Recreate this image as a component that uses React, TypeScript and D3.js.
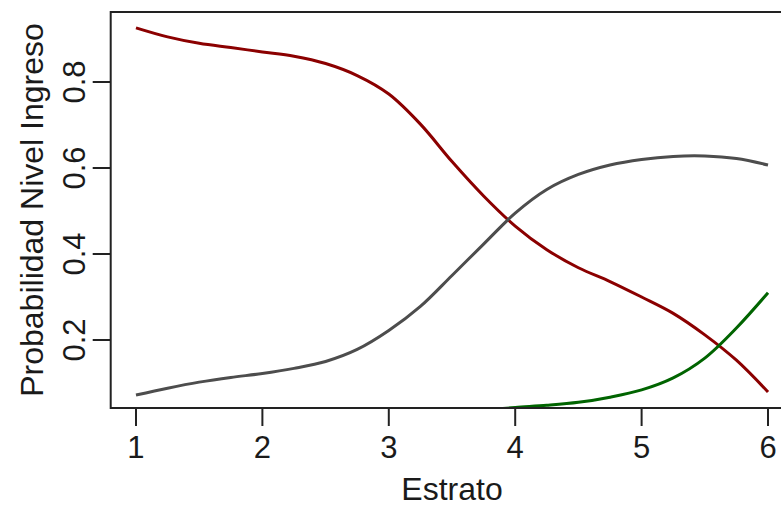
import React from "react";
import * as d3 from "d3";

const estratoRed = [1, 1.25, 1.5, 1.75, 2, 2.25, 2.5, 2.75, 3, 3.25, 3.5, 3.75, 4, 4.25, 4.5, 4.75, 5, 5.25, 5.5, 5.75, 6];
const probRed = [0.926, 0.905, 0.890, 0.880, 0.870, 0.860, 0.843, 0.815, 0.772, 0.702, 0.615, 0.535, 0.465, 0.410, 0.368, 0.336, 0.300, 0.262, 0.212, 0.153, 0.079];

const estratoGrey = [1, 1.25, 1.5, 1.75, 2, 2.25, 2.5, 2.75, 3, 3.25, 3.5, 3.75, 4, 4.25, 4.5, 4.75, 5, 5.25, 5.5, 5.75, 6];
const probGrey = [0.072, 0.088, 0.102, 0.113, 0.122, 0.134, 0.150, 0.178, 0.222, 0.278, 0.350, 0.423, 0.495, 0.550, 0.585, 0.607, 0.620, 0.627, 0.628, 0.622, 0.607];

const estratoGreen = [3.7, 4, 4.25, 4.5, 4.75, 5, 5.25, 5.5, 5.75, 6];
const probGreen = [0.036, 0.043, 0.048, 0.055, 0.067, 0.084, 0.112, 0.158, 0.228, 0.310];

const xTicks = [1, 2, 3, 4, 5, 6];
const yTicks = [0.2, 0.4, 0.6, 0.8];
const xTitle = "Estrato";
const yTitle = "Probabilidad Nivel Ingreso";

const W = 781;
const H = 505;
const FONT = "'Liberation Sans', Arial, sans-serif";
const FS_TICK = 31;
const FS_TITLE = 32;

export default function App() {
  const x = d3.scaleLinear().domain([0.8, 6.2]).range([110.7, 793.3]);
  const y = d3.scaleLinear().domain([0.2, 0.8]).range([340, 82]);
  const left = x(0.8);
  const right = x(6.2);
  const top = 12;
  const bottom = 408;

  const line = d3
    .line<[number, number]>()
    .x((d) => x(d[0]))
    .y((d) => y(d[1]))
    .curve(d3.curveCatmullRom.alpha(0.5));

  const series = [
    { xs: estratoRed, ys: probRed, color: "#8B0000" },
    { xs: estratoGrey, ys: probGrey, color: "#4D4D4D" },
    { xs: estratoGreen, ys: probGreen, color: "#006400" },
  ];

  return (
    <svg
      width={W}
      height={H}
      style={{ position: "absolute", left: 0, top: 0, background: "#fff" }}
      fontFamily={FONT}
    >
      <defs>
        <clipPath id="plotclip">
          <rect x={left} y={top} width={right - left} height={bottom - top} />
        </clipPath>
      </defs>
      <rect x={0} y={0} width={W} height={H} fill="#fff" />
      <g clipPath="url(#plotclip)">
        {series.map((s, i) => (
          <path
            key={i}
            d={line(s.xs.map((v, j) => [v, s.ys[j]] as [number, number])) || ""}
            fill="none"
            stroke={s.color}
            strokeWidth={3}
            strokeLinejoin="round"
          />
        ))}
      </g>
      <rect
        x={left}
        y={top}
        width={right - left}
        height={bottom - top}
        fill="none"
        stroke="#222"
        strokeWidth={2}
      />
      {xTicks.map((t) => (
        <g key={"x" + t}>
          <line x1={x(t)} x2={x(t)} y1={bottom} y2={bottom + 18} stroke="#222" strokeWidth={2} />
          <text x={x(t)} y={458} textAnchor="middle" fontSize={FS_TICK} fill="#1a1a1a">
            {t}
          </text>
        </g>
      ))}
      {yTicks.map((t) => (
        <g key={"y" + t}>
          <line x1={left - 18} x2={left} y1={y(t)} y2={y(t)} stroke="#222" strokeWidth={2} />
          <text
            transform={`translate(85,${y(t)}) rotate(-90)`}
            textAnchor="middle"
            fontSize={FS_TICK}
            fill="#1a1a1a"
          >
            {t.toFixed(1)}
          </text>
        </g>
      ))}
      <text x={(left + right) / 2} y={500} textAnchor="middle" fontSize={FS_TITLE} fill="#1a1a1a">
        {xTitle}
      </text>
      <text
        transform={`translate(43,${(top + bottom) / 2}) rotate(-90)`}
        textAnchor="middle"
        fontSize={FS_TITLE}
        fill="#1a1a1a"
      >
        {yTitle}
      </text>
    </svg>
  );
}
